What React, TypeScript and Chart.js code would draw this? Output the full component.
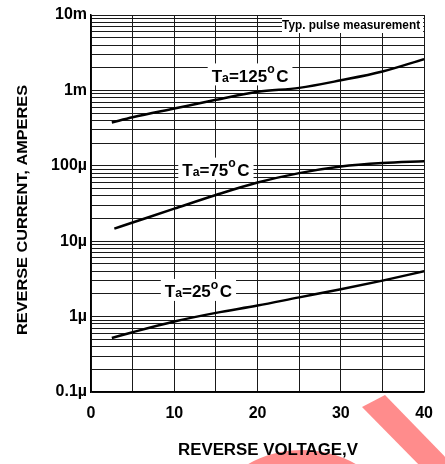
import React, { useEffect, useRef } from "react";
import { Chart, registerables } from "chart.js";

Chart.register(...registerables);

// ---- data ----
const voltages = [2.5, 5, 10, 15, 20, 25, 30, 35, 40];
const voltages75 = [2.8, 5, 10, 15, 20, 25, 30, 35, 40];
const current125 = [3.75e-4, 4.4e-4, 5.75e-4, 7.5e-4, 9.6e-4, 1.08e-3, 1.36e-3, 1.78e-3, 2.6e-3];
const current75 = [1.47e-5, 1.77e-5, 2.7e-5, 4.1e-5, 6.0e-5, 8.0e-5, 9.8e-5, 1.09e-4, 1.15e-4];
const current25 = [5.2e-7, 6.2e-7, 8.6e-7, 1.12e-6, 1.4e-6, 1.8e-6, 2.3e-6, 3.0e-6, 4.0e-6];

const xTickValues = [0, 5, 10, 15, 20, 25, 30, 35, 40];
const xTickLabels = ["0", "", "10", "", "20", "", "30", "", "40"];
const yDecades = [1e-7, 1e-6, 1e-5, 1e-4, 1e-3, 1e-2];
const yDecadeLabels = ["0.1\u00b5", "1\u00b5", "10\u00b5", "100\u00b5", "1m", "10m"];
const curveTemps = ["125", "75", "25"];
const labelVolts = [19.1, 15.0, 12.9];
const labelCurrents = [1.58e-3, 8.9e-5, 2.19e-6];

const xTitle = "REVERSE VOLTAGE,V";
const yTitle = "REVERSE CURRENT, AMPERES";
const noteText = "Typ. pulse measurement";

const FONT = "'Liberation Sans', Arial, Helvetica, sans-serif";

function buildLogTicks() {
  const out: number[] = [];
  for (let i = 0; i < yDecades.length; i++) {
    const d = yDecades[i];
    out.push(d);
    if (i < yDecades.length - 1) {
      for (let k = 2; k <= 9; k++) out.push(parseFloat((k * d).toPrecision(6)));
    }
  }
  return out;
}

function decadeLabel(v: number) {
  for (let i = 0; i < yDecades.length; i++) {
    if (Math.abs(Math.log10(v) - Math.log10(yDecades[i])) < 1e-6) return yDecadeLabels[i];
  }
  return "";
}

function fitText(
  ctx: CanvasRenderingContext2D,
  text: string,
  x: number,
  y: number,
  size: number,
  targetW: number,
  align: "center" | "right" | "left",
  rotate: boolean
) {
  ctx.save();
  ctx.translate(x, y);
  if (rotate) ctx.rotate(-Math.PI / 2);
  ctx.font = `bold ${size}px ${FONT}`;
  const w = ctx.measureText(text).width;
  ctx.scale(targetW / w, 1);
  ctx.textAlign = align;
  ctx.textBaseline = "alphabetic";
  ctx.fillStyle = "#000";
  ctx.fillText(text, 0, 0);
  ctx.restore();
}

function drawTempLabel(ctx: CanvasRenderingContext2D, temp: string, cx: number, cy: number) {
  const size = 17;
  const parts = [
    { t: "T", s: 1, dy: 0 },
    { t: "a", s: 0.72, dy: 0 },
    { t: "=" + temp, s: 1, dy: 0 },
    { t: "o", s: 0.72, dy: -8.5 },
    { t: "C", s: 1, dy: 0 },
  ];
  let total = 0;
  const widths: number[] = [];
  for (const p of parts) {
    ctx.font = `bold ${size * p.s}px ${FONT}`;
    const w = ctx.measureText(p.t).width + (p.t === "o" ? 1.5 : 0);
    widths.push(w);
    total += w;
  }
  const cap = size * 0.716;
  const baseline = cy + cap / 2;
  ctx.fillStyle = "#fff";
  ctx.fillRect(cx - total / 2 - 4, cy - 12, total + 8, 22);
  let x = cx - total / 2;
  ctx.fillStyle = "#000";
  ctx.textAlign = "left";
  ctx.textBaseline = "alphabetic";
  parts.forEach((p, i) => {
    ctx.font = `bold ${size * p.s}px ${FONT}`;
    ctx.fillText(p.t, x, baseline + p.dy);
    x += widths[i];
  });
}

const annotations = {
  id: "annotations",
  afterDatasetsDraw(chart: any) {
    const ctx: CanvasRenderingContext2D = chart.ctx;
    const xs = chart.scales.x;
    const ys = chart.scales.y;
    const area = chart.chartArea;
    ctx.save();
    // note box top-right
    ctx.fillStyle = "#fff";
    ctx.fillRect(282, area.top + 1, area.right - 282 - 1, 17);
    fitText(ctx, noteText, area.right - 4, area.top + 14, 12.5, 138, "right", false);
    // curve labels
    curveTemps.forEach((t, i) => {
      drawTempLabel(ctx, t, xs.getPixelForValue(labelVolts[i]), ys.getPixelForValue(labelCurrents[i]));
    });
    ctx.restore();
  },
  afterDraw(chart: any) {
    const ctx: CanvasRenderingContext2D = chart.ctx;
    ctx.save();
    // watermark fragment (behind the axis title)
    ctx.fillStyle = "rgb(255,140,140)";
    ctx.beginPath();
    ctx.moveTo(362, 407);
    ctx.lineTo(385, 395);
    ctx.lineTo(450, 462);
    ctx.lineTo(450, 470);
    ctx.lineTo(424, 470);
    ctx.closePath();
    ctx.fill();
    ctx.beginPath();
    ctx.arc(302, 560, 110, 0, Math.PI * 2);
    ctx.arc(302, 560, 96, 0, Math.PI * 2, true);
    ctx.fill("evenodd");
    // axis titles
    fitText(ctx, xTitle, 268, 455, 16, 180, "center", false);
    fitText(ctx, yTitle, 27, 210, 15, 250, "center", true);
    ctx.restore();
  },
};

export default function App() {
  const ref = useRef<HTMLCanvasElement>(null);
  useEffect(() => {
    document.body.style.margin = "0";
    const canvas = ref.current!;
    const logTicks = buildLogTicks();
    const lineStyle = {
      showLine: true,
      borderColor: "#000",
      borderWidth: 2.5,
      pointRadius: 0,
      fill: false,
      tension: 0.4,
      cubicInterpolationMode: "monotone" as const,
    };
    const chart = new Chart(canvas, {
      type: "scatter",
      data: {
        datasets: [
          { label: "125", data: voltages.map((v, i) => ({ x: v, y: current125[i] })), ...lineStyle },
          { label: "75", data: voltages75.map((v, i) => ({ x: v, y: current75[i] })), ...lineStyle },
          { label: "25", data: voltages.map((v, i) => ({ x: v, y: current25[i] })), ...lineStyle },
        ],
      },
      options: {
        animation: false,
        responsive: false,
        devicePixelRatio: 1,
        layout: { padding: { top: 15, right: 15, left: 0, bottom: 0 } },
        plugins: { legend: { display: false }, tooltip: { enabled: false } },
        scales: {
          x: {
            type: "linear",
            min: 0,
            max: 40,
            afterBuildTicks: (s: any) => {
              s.ticks = xTickValues.map((v) => ({ value: v }));
            },
            afterFit: (s: any) => {
              s.height = 72;
            },
            ticks: {
              autoSkip: false,
              maxRotation: 0,
              padding: 12,
              color: "#000",
              font: { family: FONT, size: 16, weight: "bold" },
              callback: (v: any) => {
                const i = xTickValues.indexOf(Number(v));
                return i >= 0 ? xTickLabels[i] : "";
              },
            },
            grid: { color: "#1a1a1a", lineWidth: 1, drawTicks: false },
            border: { color: "#000", width: 1.5 },
          },
          y: {
            type: "logarithmic",
            min: 1e-7,
            max: 1e-2,
            afterBuildTicks: (s: any) => {
              s.ticks = logTicks.map((v) => ({ value: v }));
            },
            afterFit: (s: any) => {
              s.width = 91;
            },
            ticks: {
              autoSkip: false,
              padding: 4,
              color: "#000",
              font: { family: FONT, size: 16, weight: "bold" },
              callback: (v: any) => decadeLabel(Number(v)),
            },
            grid: { color: "#1a1a1a", lineWidth: 1, drawTicks: false },
            border: { color: "#000", width: 1.5 },
          },
        },
      },
      plugins: [annotations],
    } as any);
    return () => chart.destroy();
  }, []);
  return (
    <div style={{ position: "absolute", left: 0, top: 0, width: 445, height: 464, background: "#fff" }}>
      <canvas ref={ref} width={445} height={464} style={{ display: "block", width: 445, height: 464 }} />
    </div>
  );
}
